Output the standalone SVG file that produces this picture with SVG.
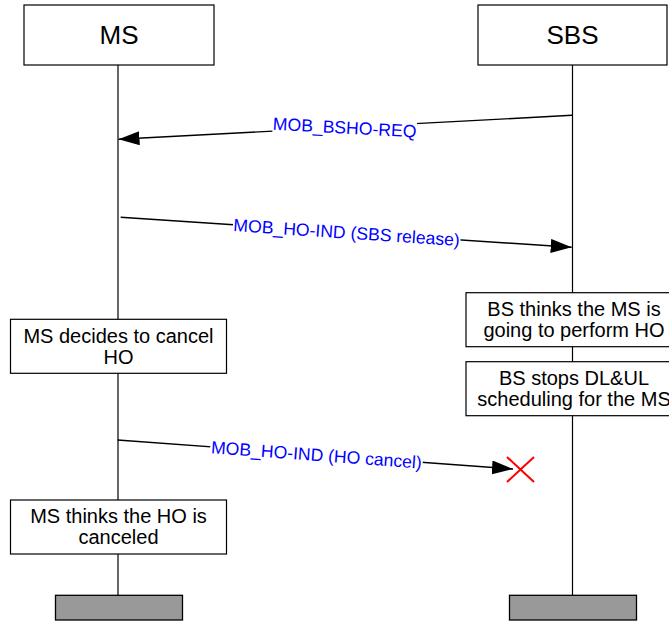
<svg xmlns="http://www.w3.org/2000/svg" width="669" height="621" viewBox="0 0 669 621">
<style>
.box{fill:#fff;stroke:#000;stroke-width:1.2}
.bar{fill:#999;stroke:#000;stroke-width:1.3}
.life{stroke:#000;stroke-width:1.2;fill:none}
.msg{stroke:#000;stroke-width:1.4;fill:none}
.t{font-family:"Liberation Sans",Arial,sans-serif;fill:#000;text-anchor:middle}
.title{font-size:26px}
.note{font-size:20px}
.lbl{font-family:"Liberation Sans",Arial,sans-serif;font-size:17.6px;fill:#0000ff;text-anchor:middle}
.lblbg{fill:#fff}
</style>
<defs>
<marker id="ah" markerUnits="userSpaceOnUse" markerWidth="21" markerHeight="14" refX="21" refY="7" orient="auto">
<path d="M0,0 L21,7 L0,14 z" fill="#000"/>
</marker>
</defs>
<rect width="669" height="621" fill="#fff"/>
<g id="lifelines">
<line class="life" x1="118" y1="65" x2="118" y2="595"/>
<line class="life" x1="572.5" y1="65" x2="572.5" y2="595"/>
</g>
<g id="MS">
<rect class="box" x="24" y="5" width="190" height="60"/>
<text class="t title" x="119" y="44">MS</text>
</g>
<g id="SBS">
<rect class="box" x="478" y="5" width="189" height="60"/>
<text class="t title" x="572.5" y="44">SBS</text>
</g>
<g id="connectors">
<line class="msg" x1="572" y1="115.3" x2="118.5" y2="139.3" marker-end="url(#ah)"/>
<line class="msg" x1="120.7" y1="217.3" x2="571.7" y2="247.3" marker-end="url(#ah)"/>
<line class="msg" x1="117.5" y1="440" x2="513" y2="469" marker-end="url(#ah)"/>
</g>
<g id="label-bsho-req" transform="translate(344.7,127.3) rotate(3.03)">
<rect class="lblbg" x="-72" y="-9" width="144" height="18"/>
<text class="lbl" x="0" y="6.3">MOB_BSHO-REQ</text>
</g>
<g id="label-ho-ind-release" transform="translate(346.7,232.3) rotate(3.8)">
<rect class="lblbg" x="-114" y="-9" width="228" height="18"/>
<text class="lbl" x="0" y="6.3">MOB_HO-IND (SBS release)</text>
</g>
<g id="label-ho-ind-cancel" transform="translate(316.5,454.6) rotate(4.19)">
<rect class="lblbg" x="-106.5" y="-9" width="213" height="18"/>
<text class="lbl" x="0" y="6.3">MOB_HO-IND (HO cancel)</text>
</g>
<g id="cancel-x">
<path d="M507,457 L534,482 M534,457 L507,482" stroke="#ff0000" stroke-width="2" fill="none"/>
</g>
<g id="bs-thinks">
<rect class="box" x="466" y="292.7" width="216" height="54"/>
<text class="t note" x="574" y="316">BS thinks the MS is</text>
<text class="t note" x="574" y="337">going to perform HO</text>
</g>
<g id="bs-stops">
<rect class="box" x="466" y="361.7" width="216" height="54"/>
<text class="t note" x="574" y="385">BS stops DL&amp;UL</text>
<text class="t note" x="574" y="406">scheduling for the MS</text>
</g>
<g id="ms-decides">
<rect class="box" x="10.5" y="319.3" width="216" height="54"/>
<text class="t note" x="118.5" y="342.6">MS decides to cancel</text>
<text class="t note" x="118.5" y="363.6">HO</text>
</g>
<g id="ms-thinks">
<rect class="box" x="10.5" y="500" width="216" height="54"/>
<text class="t note" x="118.5" y="523.3">MS thinks the HO is</text>
<text class="t note" x="118.5" y="544.3">canceled</text>
</g>
<g id="ends">
<rect class="bar" x="55.5" y="595.3" width="127" height="24.7"/>
<rect class="bar" x="509.5" y="595.3" width="127" height="24.7"/>
</g>
</svg>
